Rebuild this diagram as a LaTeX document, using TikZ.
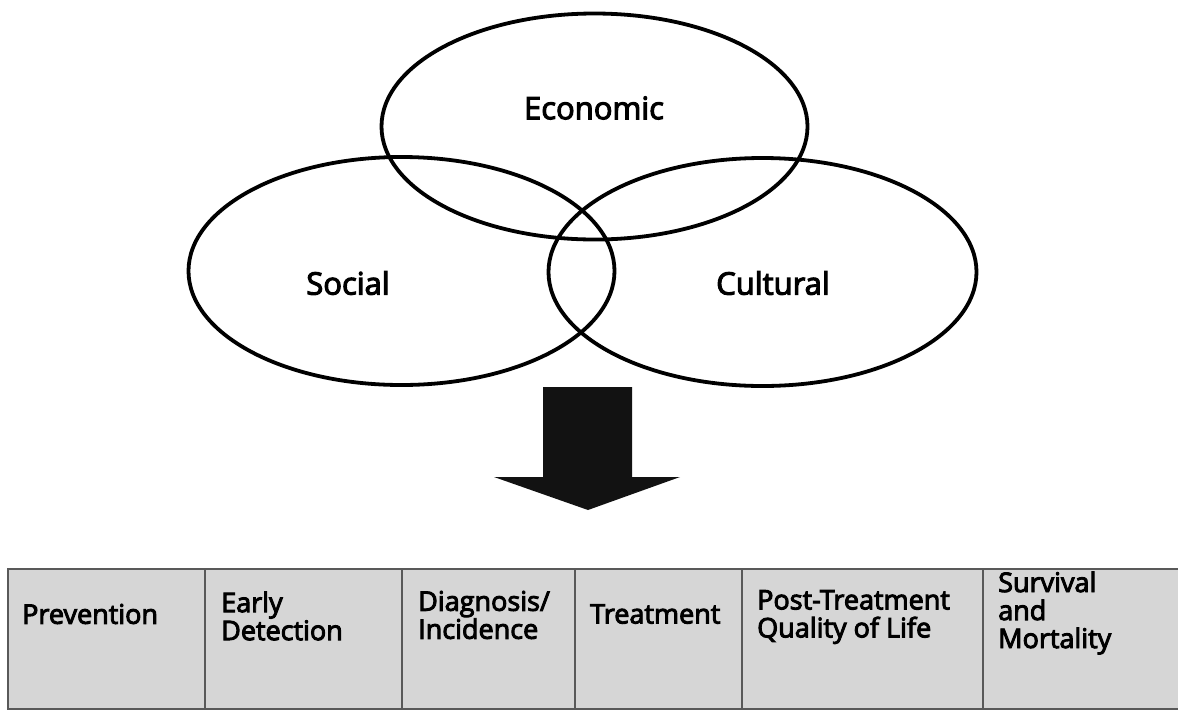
\documentclass[tikz,border=0pt]{standalone}
\usepackage{fontspec}
\setmainfont{Open Sans}
\newfontfamily\labelfont{Open Sans}[FakeBold=3.5]
\begin{document}
\begin{tikzpicture}[x=1pt,y=-1pt,
  ring/.style={line width=3.8pt,draw=black},
  ringlabel/.style={font=\labelfont\fontsize{31}{34}\selectfont},
  cell/.style={anchor=west,align=left,inner sep=0pt,font=\labelfont\fontsize{27}{28}\selectfont},
  rule/.style={draw=black!65,line width=2.6pt}]
\useasboundingbox (0,0) rectangle (1178,713);
% three overlapping factor ellipses
\draw[ring] (594.5,126.5) ellipse [x radius=213, y radius=113];
\draw[ring] (401.5,271) ellipse [x radius=213, y radius=114];
\draw[ring] (762.5,272) ellipse [x radius=214, y radius=114];
\node[ringlabel] (eco) at (594,108) {Economic};
\node[ringlabel] (soc) at (348,283) {Social};
\node[ringlabel] (cul) at (773,283) {Cultural};
% block arrow
\fill[black!93] (543,387) -- (632,387) -- (632,477) -- (680,477) -- (588,510)
  -- (494,477) -- (543,477) -- cycle;
% continuum table
\fill[black!16] (8,569) rectangle (1190,709);
\draw[rule] (1190,569) -- (8,569) -- (8,709) -- (1190,709);
\foreach \xc in {205,402,575,742,983}
  \draw[rule] (\xc,569) -- (\xc,709);
\node[cell] (c1) at (22,614) {Prevention};
\node[cell] (c2) at (221,616) {Early\\Detection};
\node[cell] (c3) at (418,615) {Diagnosis/\\Incidence};
\node[cell] (c4) at (590,614) {Treatment};
\node[cell] (c5) at (757,617) {Post-Treatment\\Quality of Life};
\node[cell] (c6) at (998,613) {Survival\\and\\Mortality};
\end{tikzpicture}
\end{document}
